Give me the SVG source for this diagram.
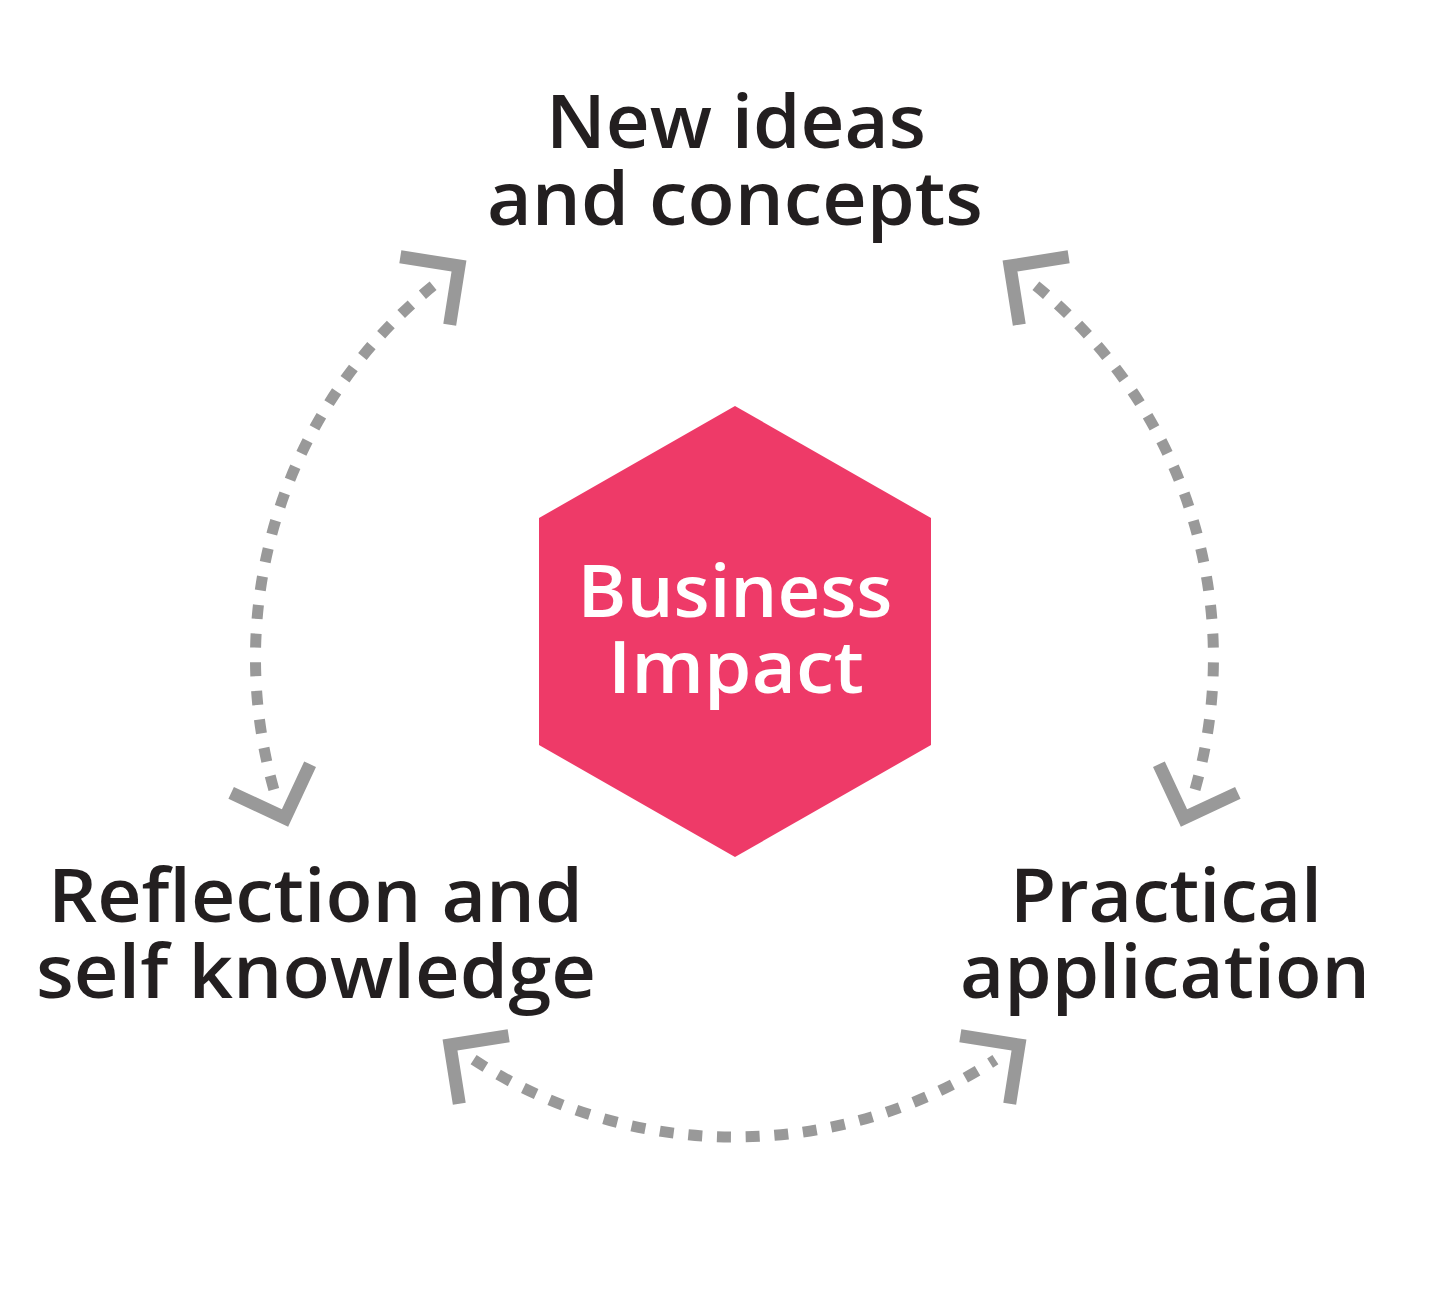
<svg xmlns="http://www.w3.org/2000/svg" width="1453" height="1312" viewBox="0 0 1453 1312">
  <style>
    .lbl { font-family: "Open Sans", "Liberation Sans", sans-serif; font-weight: 600; font-size: 74px; fill: #231f20; text-anchor: middle; }
    .hex-lbl { font-family: "Open Sans", "Liberation Sans", sans-serif; font-weight: 600; font-size: 72px; fill: #ffffff; text-anchor: middle; }
    .arc { fill: none; stroke: #999999; stroke-width: 11; stroke-dasharray: 14 14.7; }
    .head { fill: none; stroke: #999999; stroke-width: 13; stroke-linejoin: miter; stroke-linecap: butt; }
  </style>
  <defs>
    <path id="chev" d="M-42,-42 L0,0 L-42,42"/>
  </defs>
  <rect width="1453" height="1312" fill="#ffffff"/>
  <g id="connectors">
    <path class="arc" d="M433.1,285.8 A479,479 0 0 0 274.0,790.0"/>
    <path class="arc" d="M1035.9,285.8 A479,479 0 0 1 1194.9,790.0"/>
    <path class="arc" d="M473.6,1059.7 A479,479 0 0 0 995.4,1059.7"/>
    <use href="#chev" class="head" transform="translate(459,266) rotate(-36)"/>
    <use href="#chev" class="head" transform="translate(285,818) rotate(70)"/>
    <use href="#chev" class="head" transform="translate(1010,266) rotate(-144)"/>
    <use href="#chev" class="head" transform="translate(1184,818) rotate(110)"/>
    <use href="#chev" class="head" transform="translate(450,1045) rotate(-144)"/>
    <use href="#chev" class="head" transform="translate(1019,1045) rotate(-36)"/>
  </g>
  <g id="node-business-impact">
    <polygon points="735,406 931,518 931,745 735,857 539,745 539,518" fill="#ee3a68"/>
    <text class="hex-lbl" x="735" y="617" textLength="315" lengthAdjust="spacingAndGlyphs">Business</text>
    <text class="hex-lbl" x="736" y="693" textLength="256" lengthAdjust="spacingAndGlyphs">Impact</text>
  </g>
  <g id="node-new-ideas">
    <text class="lbl" x="736" y="148" textLength="380" lengthAdjust="spacingAndGlyphs">New ideas</text>
    <text class="lbl" x="735" y="225" textLength="496" lengthAdjust="spacingAndGlyphs">and concepts</text>
  </g>
  <g id="node-reflection">
    <text class="lbl" x="315.5" y="922" textLength="535" lengthAdjust="spacingAndGlyphs">Reflection and</text>
    <text class="lbl" x="316" y="998" textLength="560" lengthAdjust="spacingAndGlyphs">self knowledge</text>
  </g>
  <g id="node-practical">
    <text class="lbl" x="1166" y="922" textLength="312" lengthAdjust="spacingAndGlyphs">Practical</text>
    <text class="lbl" x="1165" y="998" textLength="410" lengthAdjust="spacingAndGlyphs">application</text>
  </g>
</svg>
